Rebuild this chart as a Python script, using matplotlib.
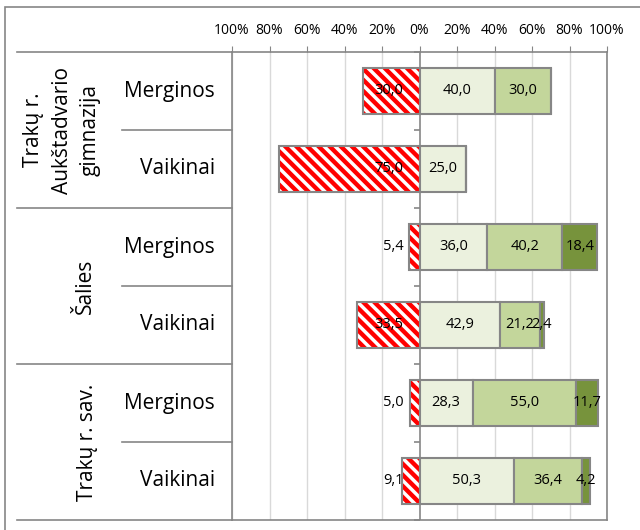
import matplotlib.pyplot as plt
import numpy as np
from matplotlib.transforms import blended_transform_factory
from matplotlib.patches import Rectangle

groups = ["Trakų r.\nAukštadvario\ngimnazija", "Šalies", "Trakų r. sav."]
genders = ["Merginos", "Vaikinai"]

# one value per row, top to bottom
neg = [30.0, 75.0, 5.4, 33.5, 5.0, 9.1]
pos1 = [40.0, 25.0, 36.0, 42.9, 28.3, 50.3]
pos2 = [30.0, 0.0, 40.2, 21.2, 55.0, 36.4]
pos3 = [0.0, 0.0, 18.4, 2.4, 11.7, 4.2]

ticks = [-100, -80, -60, -40, -20, 0, 20, 40, 60, 80, 100]

plt.rcParams['font.family'] = ['Open Sans', 'DejaVu Sans']
plt.rcParams['hatch.linewidth'] = 2.5

gray = '#868686'
colors = ['#EBF1DE', '#C3D69B', '#77933C']

fig = plt.figure(figsize=(6.4, 5.3), dpi=100)
ax = fig.add_axes([232 / 640, 1 - 520 / 530, 375 / 640, 468 / 530])

n = len(neg)
y = np.arange(n)[::-1]
h = 0.59

for xv in ticks:
    if xv != 0:
        ax.axvline(xv, color='#D9D9D9', lw=1, zorder=0)

neg_a = np.array(neg)
# hatched negative part
ax.barh(y, -neg_a, height=h, color='red', edgecolor='white', hatch='\\\\\\', lw=0, zorder=2)
ax.barh(y, -neg_a, height=h, fill=False, edgecolor=gray, lw=1.5, zorder=3)

left = np.zeros(n)
for vals, c in zip([pos1, pos2, pos3], colors):
    v = np.array(vals)
    ax.barh(y, v, left=left, height=h, color=c, edgecolor=gray, lw=1.5, zorder=3)
    for yi, l, w in zip(y, left, v):
        if w > 0:
            ax.text(l + w / 2, yi, f"{w:.1f}".replace('.', ','), ha='center', va='center',
                    fontsize=10.5, zorder=5)
    left = left + v

for yi, w in zip(y, neg):
    ax.text(-8.5, yi, f"{w:.1f}".replace('.', ','), ha='right', va='center', fontsize=10.5, zorder=5)

ax.set_xlim(-100, 100)
ax.set_ylim(-0.5, n - 0.5)
ax.xaxis.tick_top()
ax.set_xticks(ticks)
ax.set_xticklabels([f"{abs(t)}%" for t in ticks], fontsize=10)
ax.tick_params(axis='x', length=4, color=gray, pad=6)
ax.set_yticks([])
for s in ax.spines.values():
    s.set_color(gray)
    s.set_linewidth(1.2)

# category axis at zero with small ticks at row boundaries
ax.axvline(0, color=gray, lw=1.2, zorder=4)
bounds = np.arange(n + 1) - 0.5
ax.hlines(bounds, -3.2, 0, color=gray, lw=1.2, zorder=4, clip_on=False)

# category labels on the left
tr = blended_transform_factory(fig.transFigure, ax.transData)
ax_left = 232 / 640
for b in bounds:
    gi = int(round(n - 0.5 - b))
    if gi % 2 == 0:
        x0 = 17 / 640
    else:
        x0 = 122 / 640
    ax.plot([x0, ax_left], [b, b], color=gray, lw=1.2, transform=tr, clip_on=False)

for i, yi in enumerate(y):
    ax.text(215 / 640, yi, genders[i % 2], transform=tr, ha='right', va='center', fontsize=15)

gx = [62, 85, 88]
for gi, g in enumerate(groups):
    yc = (y[2 * gi] + y[2 * gi + 1]) / 2
    ax.text(gx[gi] / 640, yc, g, transform=tr, ha='center', va='center', rotation=90,
            fontsize=15, linespacing=1.45, multialignment='center')

# outer chart border
fig.add_artist(Rectangle((5 / 640, -0.2), 1.2, 1.2 - 7 / 530, transform=fig.transFigure,
                         fill=False, edgecolor=gray, lw=1.2))

fig.savefig('out.png', dpi=100)
